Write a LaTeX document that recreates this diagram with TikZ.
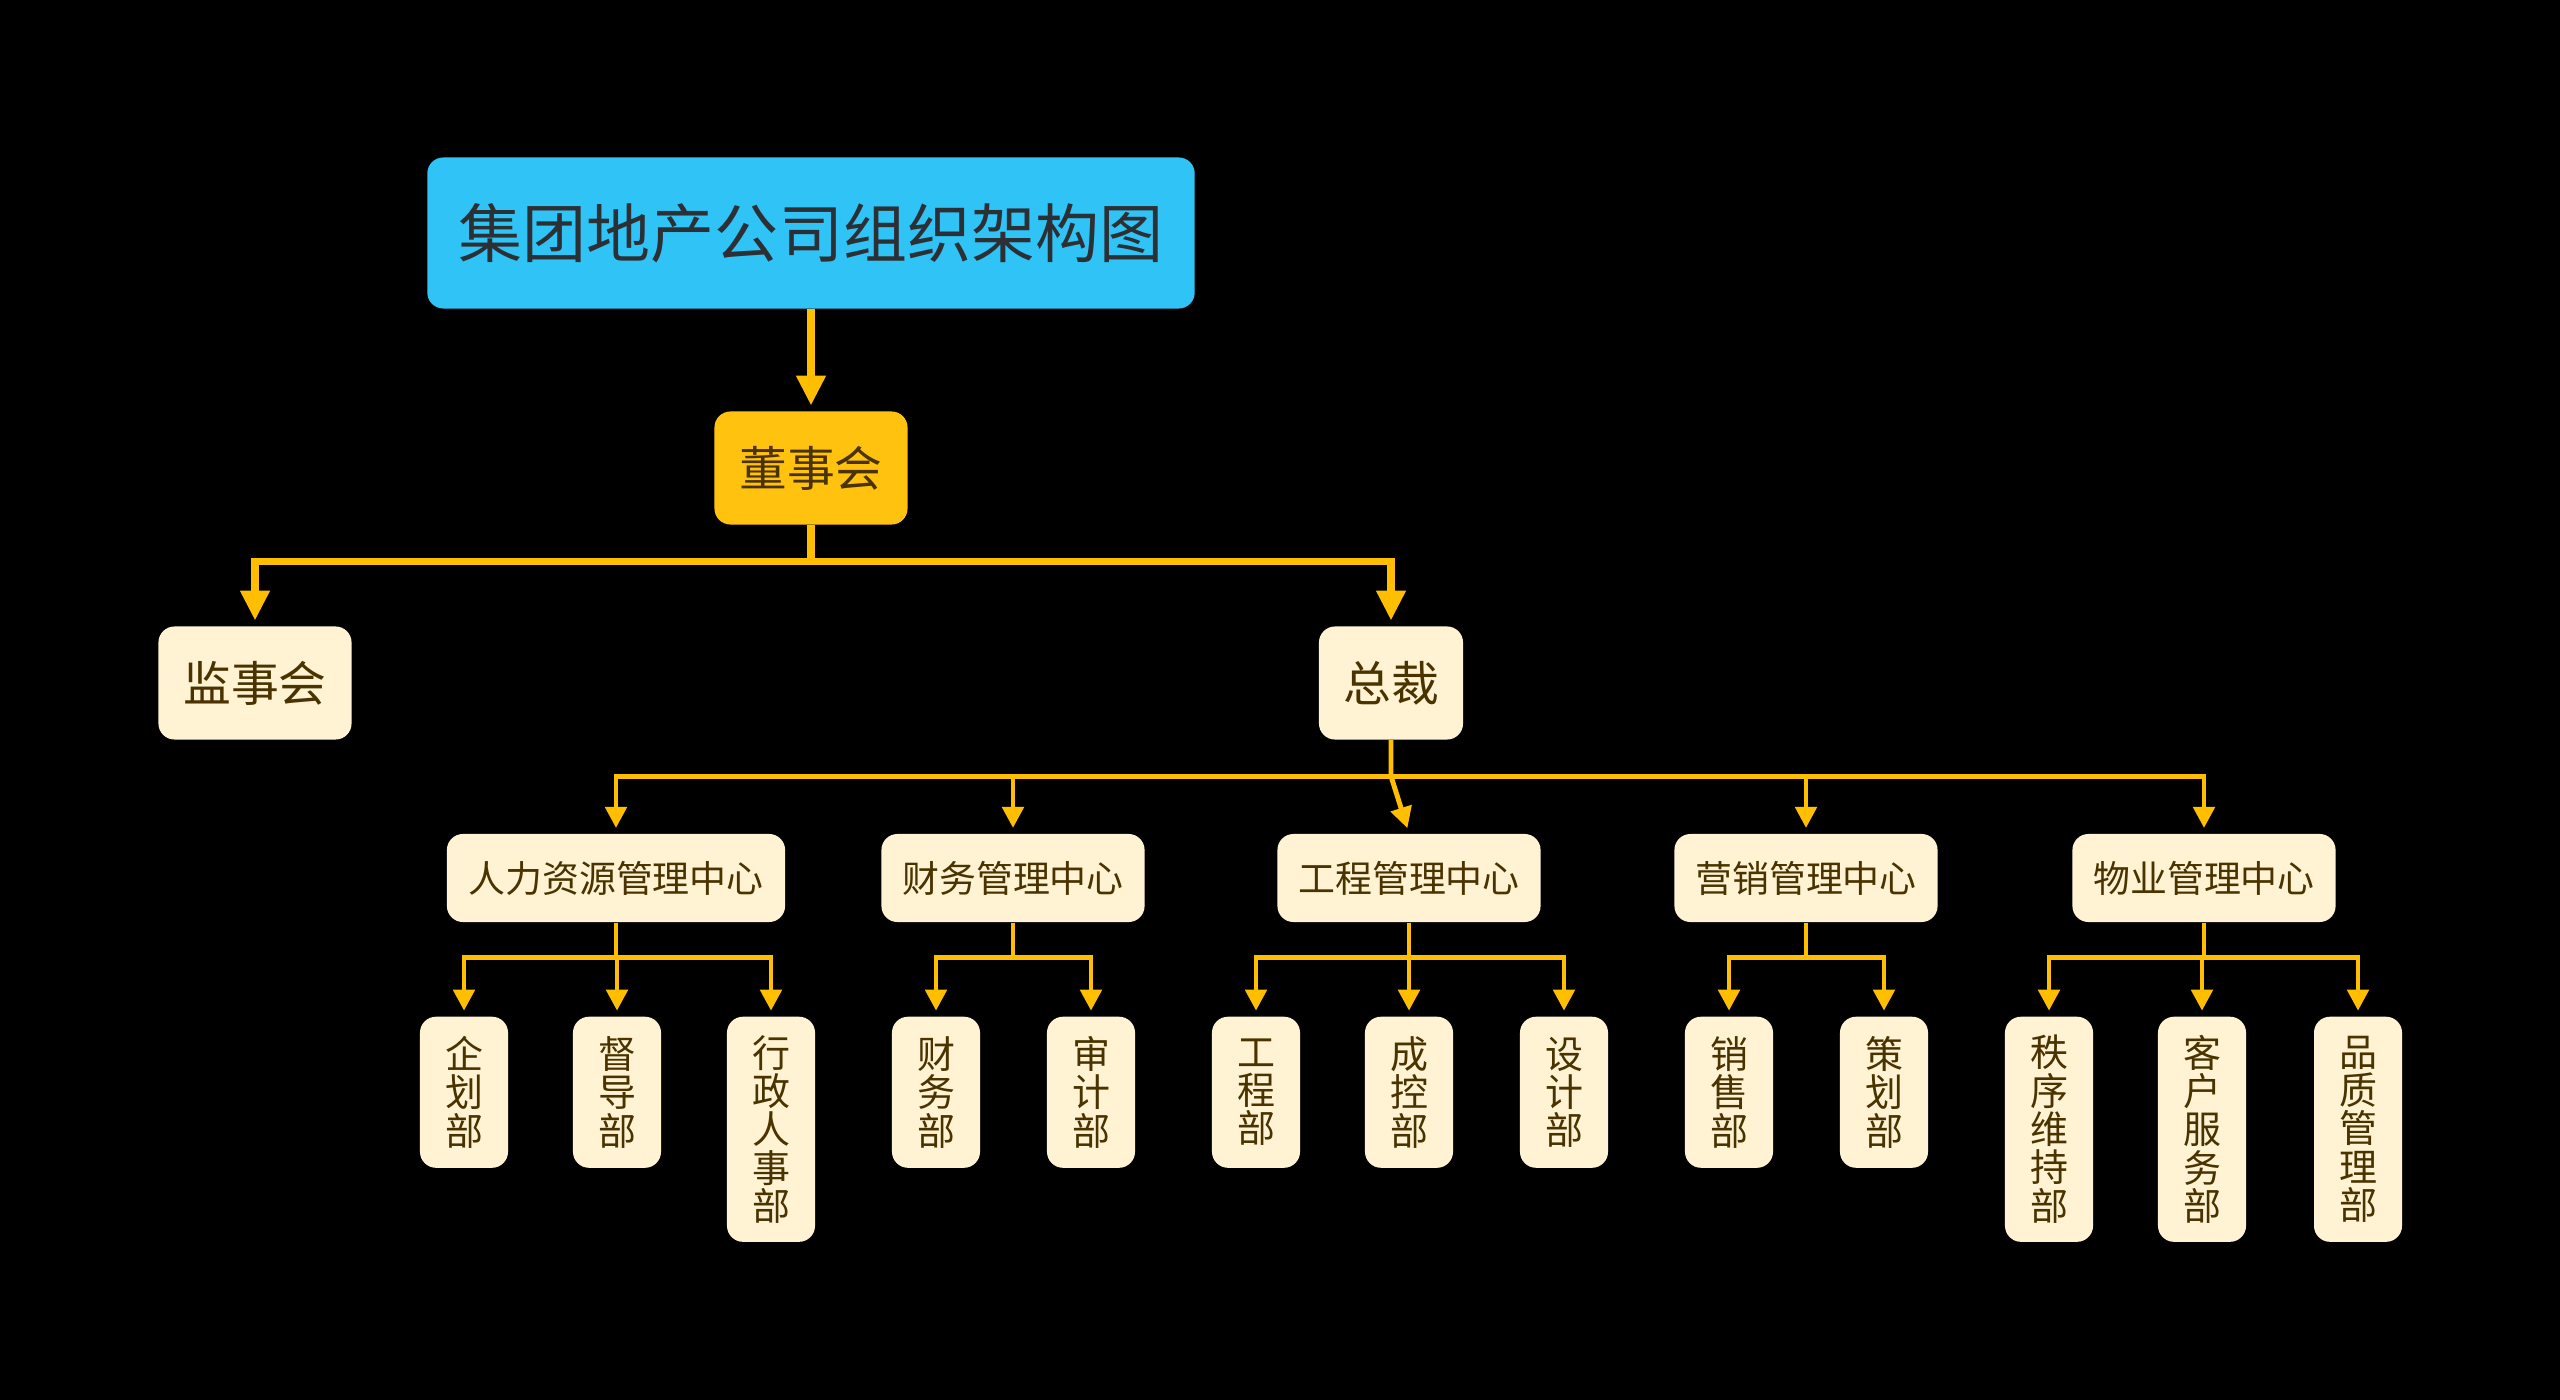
\documentclass[tikz,border=0pt]{standalone}
\usepackage{fontspec}
\setmainfont{Noto Sans CJK SC}
\usepackage{tikz}
\usetikzlibrary{arrows.meta}

\definecolor{linegold}{RGB}{255,190,0}
\definecolor{titleblue}{RGB}{48,196,246}
\definecolor{boardgold}{RGB}{255,194,14}
\definecolor{cream}{RGB}{255,243,211}
\definecolor{deptink}{RGB}{74,51,0}
\definecolor{titleink}{RGB}{44,48,52}

\tikzset{
  titlebox/.style={fill=titleblue, rounded corners=0.16cm, text=titleink,
    minimum width=7.67cm, minimum height=1.51cm,
    font=\fontsize{18.2pt}{20pt}\selectfont},
  topbox/.style={rounded corners=0.16cm, text=deptink, minimum height=1.13cm,
    font=\fontsize{13.6pt}{15pt}\selectfont},
  centerbox/.style={fill=cream, rounded corners=0.16cm, text=deptink,
    minimum height=0.88cm, font=\fontsize{10.5pt}{12pt}\selectfont},
  deptbox/.style={fill=cream, rounded corners=0.16cm, text=deptink, anchor=north,
    align=center, minimum width=0.88cm, inner xsep=0pt,
    font=\fontsize{10.8pt}{10.9pt}\selectfont},
  bigarrow/.style={draw=linegold, line width=2pt,
    -{Triangle[width=8pt,length=8.5pt]}, shorten >=1.5pt},
  smallarrow/.style={draw=linegold, line width=1.4pt,
    -{Triangle[width=6pt,length=6pt]}, shorten >=1.5pt}
}

\begin{document}
\begin{tikzpicture}[x=0.01cm, y=-0.01cm]

\fill[black] (0,0) rectangle (2560,1400);
\useasboundingbox (0,0) rectangle (2560,1400);

% title and board
\node[titlebox] (title) at (811,233) {集团地产公司组织架构图};
\node[topbox, fill=boardgold, minimum width=1.93cm] (board) at (811,468) {董事会};
\draw[bigarrow] (title.south) -- (board.north);

% second level
\node[topbox, fill=cream, minimum width=1.93cm] (sup) at (255,683) {监事会};
\node[topbox, fill=cream, minimum width=1.44cm] (ceo) at (1391,683) {总裁};
\foreach \kid in {sup,ceo}
  \draw[bigarrow] (board.south) -- ++(0,36) -| (\kid.north);

% management centres
\node[centerbox, minimum width=3.38cm] (hr) at (616,878) {人力资源管理中心};
\node[centerbox, minimum width=2.63cm] (fin) at (1013,878) {财务管理中心};
\node[centerbox, minimum width=2.63cm] (eng) at (1409,878) {工程管理中心};
\node[centerbox, minimum width=2.63cm] (mkt) at (1806,878) {营销管理中心};
\node[centerbox, minimum width=2.63cm] (prop) at (2204,878) {物业管理中心};
\foreach \kid in {hr,fin,mkt,prop}
  \draw[smallarrow] (ceo.south) -- ++(0,36) -| (\kid.north);
\draw[smallarrow] (ceo.south) -- ++(0,36) -- (eng.north);

% departments
\node[deptbox, minimum height=1.51cm] (plan) at (464,1016) {企\\划\\部};
\node[deptbox, minimum height=1.51cm] (guide) at (617,1016) {督\\导\\部};
\node[deptbox, minimum height=2.25cm] (admin) at (771,1016) {行\\政\\人\\事\\部};
\node[deptbox, minimum height=1.51cm] (acct) at (936,1016) {财\\务\\部};
\node[deptbox, minimum height=1.51cm] (audit) at (1091,1016) {审\\计\\部};
\node[deptbox, minimum height=1.51cm] (proj) at (1256,1016) {工\\程\\部};
\node[deptbox, minimum height=1.51cm] (cost) at (1409,1016) {成\\控\\部};
\node[deptbox, minimum height=1.51cm] (design) at (1564,1016) {设\\计\\部};
\node[deptbox, minimum height=1.51cm] (sales) at (1729,1016) {销\\售\\部};
\node[deptbox, minimum height=1.51cm] (promo) at (1884,1016) {策\\划\\部};
\node[deptbox, minimum height=2.25cm] (order) at (2049,1016) {秩\\序\\维\\持\\部};
\node[deptbox, minimum height=2.25cm] (client) at (2202,1016) {客\\户\\服\\务\\部};
\node[deptbox, minimum height=2.25cm] (quality) at (2358,1016) {品\\质\\管\\理\\部};

\foreach \kid in {plan,guide,admin}
  \draw[smallarrow] (hr.south) -- ++(0,35) -| (\kid.north);
\foreach \kid in {acct,audit}
  \draw[smallarrow] (fin.south) -- ++(0,35) -| (\kid.north);
\foreach \kid in {proj,cost,design}
  \draw[smallarrow] (eng.south) -- ++(0,35) -| (\kid.north);
\foreach \kid in {sales,promo}
  \draw[smallarrow] (mkt.south) -- ++(0,35) -| (\kid.north);
\foreach \kid in {order,client,quality}
  \draw[smallarrow] (prop.south) -- ++(0,35) -| (\kid.north);

\end{tikzpicture}
\end{document}
